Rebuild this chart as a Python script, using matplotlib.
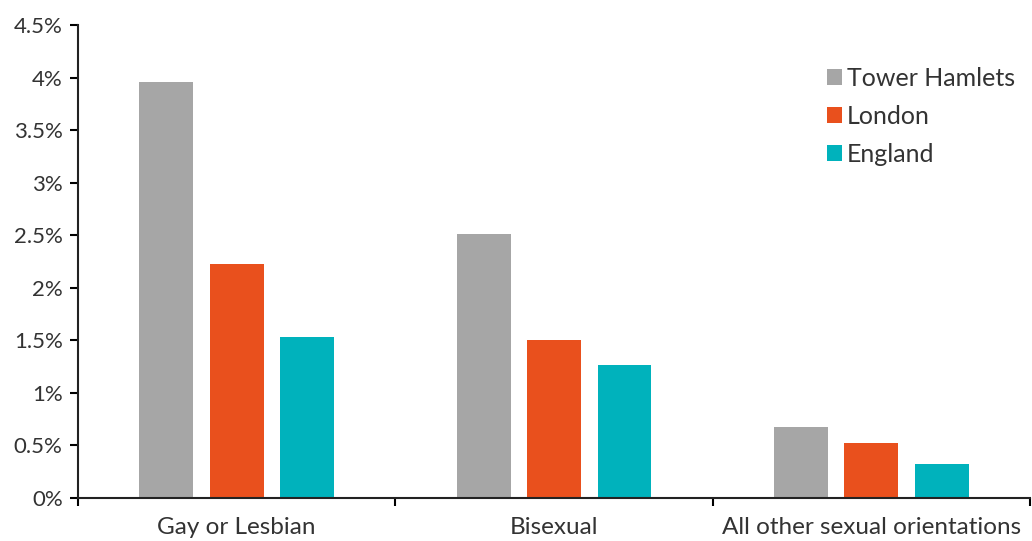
import numpy as np
import matplotlib
matplotlib.use("Agg")
import matplotlib.pyplot as plt
from matplotlib.patches import Patch

# Data (percent of population)
categories = ["Gay or Lesbian", "Bisexual", "All other sexual orientations"]
series = ["Tower Hamlets", "London", "England"]
tower_hamlets = [3.96, 2.51, 0.68]
london = [2.23, 1.50, 0.52]
england = [1.53, 1.27, 0.32]
colors = ["#A6A6A6", "#E9501D", "#00B2BC"]
yticks = [0, 0.5, 1, 1.5, 2, 2.5, 3, 3.5, 4, 4.5]
ytick_labels = ["0%", "0.5%", "1%", "1.5%", "2%", "2.5%", "3%", "3.5%", "4%", "4.5%"]

plt.rcParams['font.family'] = ['Lato', 'DejaVu Sans']
text_color = "#333333"

fig = plt.figure(figsize=(10.32, 5.41), dpi=100)
ax = fig.add_axes([0.0756, 0.0795, 0.9225, 0.8743])

x = np.arange(len(categories))
width = 0.17
offsets = [-0.222, 0, 0.222]
for vals, off, col in zip([tower_hamlets, london, england], offsets, colors):
    ax.bar(x + off, vals, width=width, color=col, zorder=2)

ax.set_xlim(-0.5, 2.5)
ax.set_ylim(0, 4.5)

# y axis
ax.set_yticks(yticks)
ax.set_yticklabels(ytick_labels, fontsize=16, color=text_color)
ax.tick_params(axis='y', direction='out', length=6, width=1.5, pad=5)

# x axis: tick marks at category boundaries, labels centred
ax.set_xticks([-0.5, 0.5, 1.5, 2.5])
ax.set_xticklabels([])
ax.set_xticks(x, minor=True)
ax.set_xticklabels(categories, minor=True, fontsize=17.5, color=text_color)
ax.tick_params(axis='x', which='major', direction='out', length=6, width=1.5)
ax.tick_params(axis='x', which='minor', length=0, pad=14)

for side in ['top', 'right']:
    ax.spines[side].set_visible(False)
for side in ['left', 'bottom']:
    ax.spines[side].set_linewidth(1.5)
    ax.spines[side].set_color("#222222")

handles = [Patch(facecolor=c, edgecolor='none') for c in colors]
leg = ax.legend(handles, series, loc='upper right', bbox_to_anchor=(1.0, 0.943),
                frameon=False, fontsize=18, handlelength=0.6, handleheight=0.6,
                handletextpad=0.2, labelspacing=0.6, borderaxespad=0.2)
for t in leg.get_texts():
    t.set_color(text_color)

fig.savefig("out.png", dpi=100)
